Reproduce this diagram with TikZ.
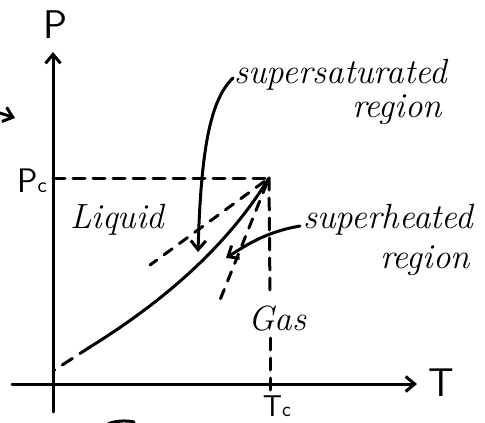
\documentclass[tikz,border=0pt]{standalone}
\usetikzlibrary{arrows.meta}
\begin{document}
\begin{tikzpicture}[x=1pt,y=-1pt,
  ink/.style={line width=3pt, line cap=round, line join=round},
  dashink/.style={ink, dash pattern=on 12pt off 8pt},
  hand/.style={font=\fontsize{35}{37}\selectfont\itshape, inner sep=0pt},
  axlab/.style={font=\fontsize{40}{40}\selectfont\sffamily, inner sep=0pt},
  tip/.style={-{Straight Barb[length=9pt,width=15pt,line width=3pt]}}]
\useasboundingbox (0,0) rectangle (485,423);
% key points
\coordinate (ybot) at (53,412);
\coordinate (ytop) at (53,52);
\coordinate (xl) at (12,384);
\coordinate (xr) at (417,384);
\coordinate (C) at (269,178);
\coordinate (Pcpt) at (53,178);
\coordinate (S) at (90,347);
\coordinate (S0) at (53,371);
\coordinate (ssend) at (150,265);
\coordinate (shend) at (220,300);
\coordinate (gtop) at (270,296);
\coordinate (gbot) at (270,338);
\coordinate (tcb) at (270,391);
% axes
\draw[ink,tip] (ybot) -- (ytop);
\draw[ink,tip] (xl) -- (xr);
\node[axlab] (P) at (55,25) {P};
\node[axlab] (T) at (441,383) {T};
\node[axlab, font=\fontsize{34}{34}\selectfont\sffamily, anchor=west] (Pc) at (17,181) {P\fontsize{22}{22}\selectfont c};
\node[axlab, font=\fontsize{30}{30}\selectfont\sffamily] (Tc) at (277,406) {T\fontsize{21}{21}\selectfont c};
% critical lines
\draw[dashink] (Pcpt) -- (C);
\draw[dashink] (C) -- (gtop);
\draw[dashink] (gbot) -- (tcb);
% coexistence curve
\draw[ink] (C) .. controls (240,225) and (190,285) .. (S);
\draw[ink, dash pattern=on 12pt off 9pt] (S) -- (S0);
% metastable lines
\draw[ink, dash pattern=on 10pt off 9pt, dash phase=-6pt] (C) -- (ssend);
\draw[ink, dash pattern=on 10pt off 9pt, dash phase=-6pt] (C) -- (shend);
% labels
\node[hand, anchor=base west] (ss) at (234,83) {supersaturated};
\node[hand, anchor=base west] (ssr) at (352,117) {region};
\node[hand, anchor=base west] (sh) at (303,228) {superheated};
\node[hand, anchor=base west] (shr) at (380,268) {region};
\node[hand, anchor=base west] (liq) at (70,228) {Liquid};
\node[hand, anchor=base west] (gas) at (248,330) {Gas};
% pointers
\coordinate (sstip) at (198,252);
\coordinate (shtip) at (226,258);
\draw[ink,tip] (233,78) .. controls (210,100) and (201,150) .. (sstip);
\draw[ink,tip] (300,226) .. controls (265,232) and (245,246) .. (shtip);
% stray marks at edges
\coordinate (st1) at (0,113);
\coordinate (st2) at (15,118);
\draw[ink,tip] (st1) -- (st2);
\coordinate (b1) at (108,424);
\coordinate (b2) at (134,422);
\draw[ink] (b1) .. controls (114,421) and (126,420) .. (b2);
\end{tikzpicture}
\end{document}
